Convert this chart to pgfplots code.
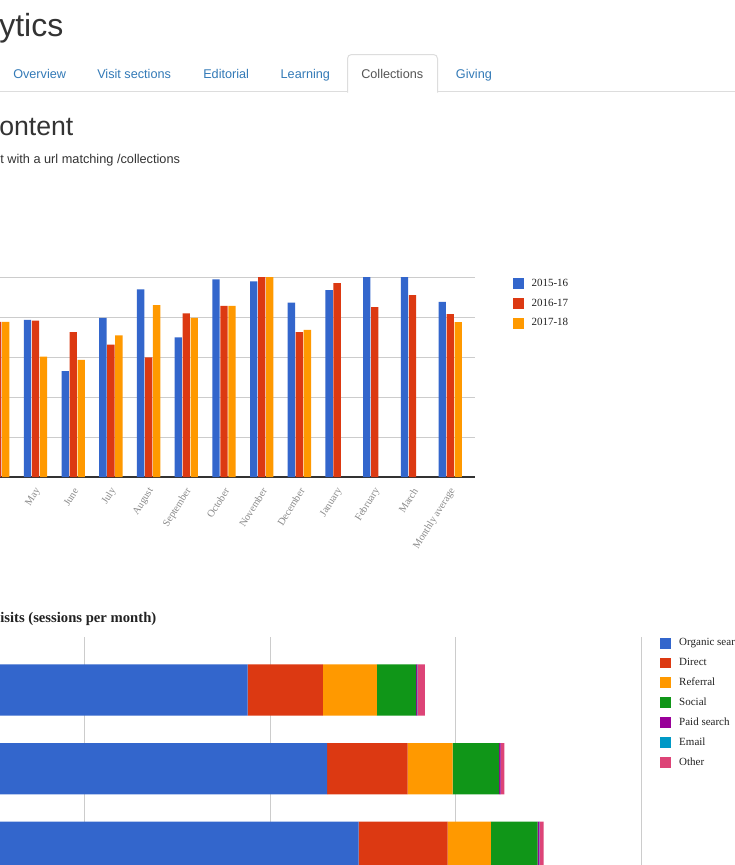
\documentclass[border=0pt]{standalone}
\usepackage{fontspec}
\setmainfont{Liberation Serif}
\newfontfamily\hsans{Liberation Sans}
\usepackage{pgfplots}
\pgfplotsset{compat=1.18}
\definecolor{gblue}{HTML}{3366CC}
\definecolor{gred}{HTML}{DC3912}
\definecolor{gorange}{HTML}{FF9900}
\definecolor{ggreen}{HTML}{109618}
\definecolor{gpurple}{HTML}{990099}
\definecolor{gcyan}{HTML}{0099C6}
\definecolor{gpink}{HTML}{DD4477}
\definecolor{gridgray}{HTML}{CCCCCC}
\definecolor{basegray}{HTML}{333333}
\definecolor{labgray}{HTML}{8A8A8A}
\definecolor{txtdark}{HTML}{222222}
\definecolor{hdark}{HTML}{333333}
\definecolor{tablink}{HTML}{337AB7}
\definecolor{tabact}{HTML}{555555}
\definecolor{tabline}{HTML}{DDDDDD}
\pgfplotsset{
  sqlegend/.style={legend image code/.code={\fill[##1,draw=none] (0pt,-4.1pt) rectangle (8.25pt,4.1pt); \path (14.25pt,0pt);}},
}
\begin{document}
\begin{tikzpicture}
\useasboundingbox (0pt,0pt) rectangle (551.25pt,-648.75pt);
\fill[white] (0pt,0pt) rectangle (551.25pt,-648.75pt);
\clip (0pt,0pt) rectangle (551.25pt,-648.75pt);
\begin{scope}[x=0.75pt,y=-0.75pt]
  \node[anchor=base west, inner sep=0pt, text=hdark, font=\hsans\fontsize{24}{28}\selectfont] at (-1,36.7) {ytics};
  \draw[tabline, line width=0.75pt] (0,91.5) -- (735,91.5);
  \filldraw[fill=white, draw=tabline, line width=0.75pt, rounded corners=3pt] (347.5,92.5) -- (347.5,54.5) -- (437.5,54.5) -- (437.5,92.5);
  \begin{scope}[every node/.style={anchor=base west, inner sep=0pt, font=\hsans\fontsize{9.5}{11}\selectfont, text=tablink}]
    \node at (13,78) {Overview};
    \node at (97,78) {Visit sections};
    \node at (203,78) {Editorial};
    \node at (280.4,78) {Learning};
    \node[text=tabact] at (361,78) {Collections};
    \node at (455.7,78) {Giving};
  \end{scope}
  \node[anchor=base west, inner sep=0pt, text=hdark, font=\hsans\fontsize{20}{24}\selectfont] at (-1,135) {ontent};
  \node[anchor=base west, inner sep=0pt, text=hdark, font=\hsans\fontsize{9.55}{11}\selectfont] at (0,163) {t with a url matching /collections};
  \node[anchor=base west, inner sep=0pt, text=txtdark, font=\bfseries\fontsize{11}{13}\selectfont] at (0,622) {isits (sessions per month)};
\end{scope}

\begin{axis}[
  at={(0pt,-207.75pt)}, anchor=north west,
  scale only axis, width=356.25pt, height=150pt,
  xmin=0.0584, xmax=12.658, ymin=0, ymax=5,
  enlargelimits=false,
  ybar, bar width=5.5pt,
  axis line style={draw=none},
  major tick length=0pt,
  ytick={1,2,3,4,5}, yticklabels={},
  ymajorgrids, grid style={draw=gridgray, line width=0.75pt},
  extra y ticks={0}, extra y tick labels={},
  extra y tick style={grid style={draw=basegray, line width=0.9pt}},
  xtick={1,...,12},
  xticklabels={May,June,July,August,September,October,November,December,January,February,March,Monthly average},
  xticklabel style={xshift=2.2pt, yshift=-8.9pt, rotate=58, anchor=east, inner sep=0pt, text=labgray, font=\fontsize{7.7}{9}\selectfont},
  legend style={at={(axis description cs:1.0785,0.9965)}, anchor=north west, draw=none, fill=none, inner sep=0pt, row sep=6.75pt, font=\fontsize{8.25}{10}\selectfont, nodes={inner sep=0pt, text=txtdark}},
  legend cell align=left,
  sqlegend,
]
\addplot[fill=gblue, draw=none, bar shift=-6pt] coordinates {
  (1,3.93) (2,2.65) (3,3.98) (4,4.69) (5,3.49) (6,4.94) (7,4.89) (8,4.36) (9,4.67) (10,5.3) (11,5.3) (12,4.38)};
\addplot[fill=gred, draw=none, bar shift=0pt] coordinates {
  (0,3.88) (1,3.91) (2,3.62) (3,3.31) (4,2.99) (5,4.09) (6,4.28) (7,5.3) (8,3.62) (9,4.85) (10,4.25) (11,4.55) (12,4.07)};
\addplot[fill=gorange, draw=none, bar shift=6pt] coordinates {
  (0,3.88) (1,3.01) (2,2.93) (3,3.54) (4,4.30) (5,3.98) (6,4.28) (7,5.3) (8,3.68) (12,3.87)};
\legend{2015-16,2016-17,2017-18}
\end{axis}

\begin{axis}[
  at={(0pt,-477.75pt)}, anchor=north west,
  scale only axis, width=480.75pt, height=171pt,
  xmin=541.5, xmax=4000, ymin=0.3266, ymax=3.2236, y dir=reverse,
  enlargelimits=false,
  xbar stacked, bar width=38.55pt,
  axis line style={draw=none}, major tick length=0pt,
  xtick={1000,2000,3000,4000}, xticklabels={},
  xmajorgrids, grid style={draw=gridgray, line width=0.75pt},
  ytick=\empty,
  legend style={at={(axis description cs:1.0296,0.9985)}, anchor=north west, draw=none, fill=none, inner sep=0pt, row sep=6.75pt, font=\fontsize{8.25}{10}\selectfont, nodes={inner sep=0pt, text=txtdark}},
  legend cell align=left,
  sqlegend,
]
\addplot[fill=gblue, draw=none] coordinates {(1877,1) (2306,2) (2476,3)};
\addplot[fill=gred, draw=none] coordinates {(407,1) (435,2) (481,3)};
\addplot[fill=gorange, draw=none] coordinates {(291,1) (243,2) (233,3)};
\addplot[fill=ggreen, draw=none] coordinates {(212,1) (250,2) (252,3)};
\addplot[fill=gpurple, draw=none] coordinates {(5,1) (8,2) (10,3)};
\addplot[fill=gcyan, draw=none] coordinates {(1,1) (1,2) (1,3)};
\addplot[fill=gpink, draw=none] coordinates {(41,1) (20,2) (21,3)};
\legend{Organic search,Direct,Referral,Social,Paid search,Email,Other}
\end{axis}
\end{tikzpicture}
\end{document}
